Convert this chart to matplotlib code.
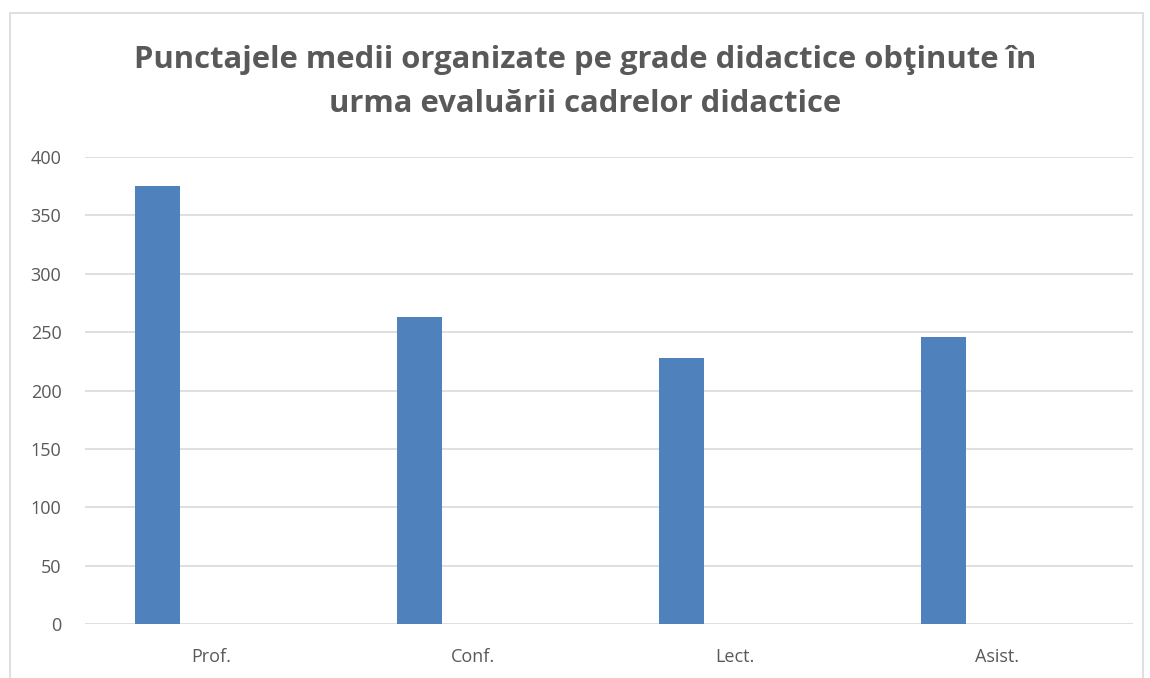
import numpy as np
import matplotlib.pyplot as plt
from matplotlib.patches import Rectangle

categories = ["Prof.", "Conf.", "Lect.", "Asist."]
values = [375, 263, 228, 246]
yticks = [0, 50, 100, 150, 200, 250, 300, 350, 400]

text_color = "#595959"
bar_color = "#4F81BD"
grid_color = "#D9D9D9"

plt.rcParams['font.family'] = ['Open Sans', 'DejaVu Sans']

fig = plt.figure(figsize=(11.5, 6.78), dpi=100)
W, H = 1150, 678
# plot area in pixels: x 85..1133, y 157..624
ax = fig.add_axes([85 / W, 1 - 624 / H, (1133 - 85) / W, (624 - 157) / H])

x = np.arange(len(categories))
ax.bar(x - 0.223, values, width=0.172, color=bar_color, zorder=3)

ax.set_xlim(-0.5, len(categories) - 0.5)
ax.set_ylim(0, 400)
ax.set_yticks(yticks)
ax.set_xticks(x - 0.02)
ax.set_xticklabels(categories)
ax.tick_params(axis="both", length=0, labelsize=13, colors=text_color)
ax.tick_params(axis="x", pad=17)
ax.tick_params(axis="y", pad=17)
ax.grid(axis="y", color=grid_color, lw=1.2, zorder=0)
for s in ax.spines.values():
    s.set_visible(False)

# chart frame
fig.patches.append(Rectangle((10 / W, -0.1), (1143 - 10) / W, 1 - 13 / H + 0.1,
                             transform=fig.transFigure, fill=False,
                             edgecolor=grid_color, lw=1.2))

fig.text(585 / W, 1 - 60 / H, "Punctajele medii organizate pe grade didactice obţinute în",
         ha="center", va="center", fontsize=22.3, fontweight="bold", color=text_color)
fig.text(585 / W, 1 - 104 / H, "urma evaluării cadrelor didactice",
         ha="center", va="center", fontsize=22.3, fontweight="bold", color=text_color)

fig.savefig("out.png", dpi=100)
